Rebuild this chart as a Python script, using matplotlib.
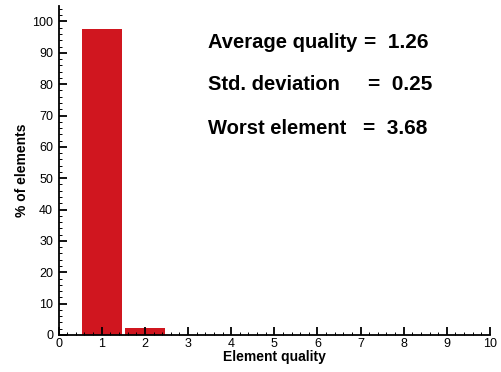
import matplotlib
matplotlib.use("Agg")
import matplotlib.pyplot as plt
from matplotlib.ticker import MultipleLocator

quality_bins = [1, 2]
percent_elements = [97.6, 2.1]
stats_labels = ["Average quality", "Std. deviation", "Worst element"]
stats_values = ["1.26", "0.25", "3.68"]

plt.rcParams['font.family'] = ['Liberation Sans', 'DejaVu Sans']

fig = plt.figure(figsize=(5.01, 3.72), dpi=100)
ax = fig.add_axes([0.117, 0.0995, 0.861, 0.885])

ax.bar(quality_bins, percent_elements, width=0.92, color='#d0161f', edgecolor='none')

ax.set_xlim(0, 10)
ax.set_ylim(0, 105)
ax.xaxis.set_major_locator(MultipleLocator(1))
ax.xaxis.set_minor_locator(MultipleLocator(0.2))
ax.yaxis.set_minor_locator(MultipleLocator(2))
ax.set_yticks(range(0, 101, 10))
ax.tick_params(axis='both', which='major', direction='in', length=6, width=1.3,
               labelsize=9, color='black')
ax.tick_params(axis='both', which='minor', direction='in', length=2.5, width=0.7)
ax.tick_params(axis='x', pad=2)
ax.tick_params(axis='y', pad=4)

for s in ['top', 'right']:
    ax.spines[s].set_visible(False)
for s in ['left', 'bottom']:
    ax.spines[s].set_linewidth(1.3)

ax.set_xlabel('Element quality', fontsize=10, fontweight='bold', labelpad=0)
ax.set_ylabel('% of elements', fontsize=10, fontweight='bold', labelpad=2)

ys = [43, 85, 128]
eq_x = [364, 368, 363]
for lab, val, yp, ex in zip(stats_labels, stats_values, ys, eq_x):
    fig.text(208 / 501, 1 - yp / 372, lab, fontsize=14.5, fontweight='bold',
             ha='left', va='center')
    fig.text(ex / 501, 1 - yp / 372, '=  ' + val, fontsize=15, fontweight='bold',
             ha='left', va='center')

fig.savefig('out.png', dpi=100)
